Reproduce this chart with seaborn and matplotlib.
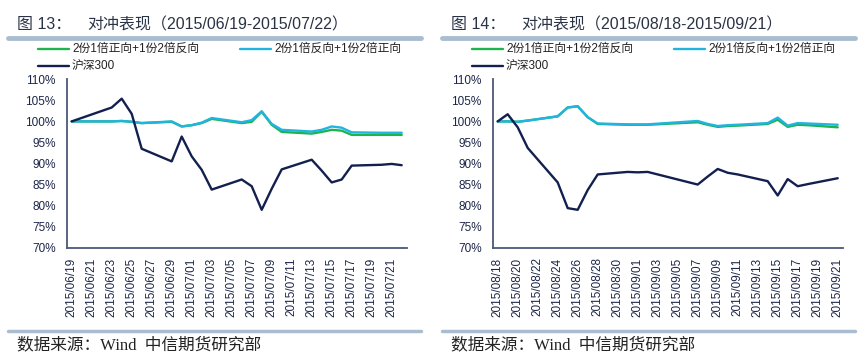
import matplotlib
matplotlib.use('Agg')
import matplotlib.pyplot as plt
from matplotlib.lines import Line2D
import seaborn as sns
import numpy as np
import pandas as pd

# ---- data ----
# left panel: 2015/06/19 - 2015/07/22
dates_l = ['2015-06-19', '2015-06-23', '2015-06-24', '2015-06-25', '2015-06-26',
           '2015-06-29', '2015-06-30', '2015-07-01', '2015-07-02', '2015-07-03',
           '2015-07-06', '2015-07-07', '2015-07-08', '2015-07-09', '2015-07-10',
           '2015-07-13', '2015-07-14', '2015-07-15', '2015-07-16', '2015-07-17',
           '2015-07-20', '2015-07-21', '2015-07-22']
green_l = [100.0, 100.0, 100.1, 99.9, 99.6, 99.9, 98.8, 99.1, 99.6, 100.6,
           99.6, 99.9, 102.3, 99.2, 97.5, 97.1, 97.5, 98.0, 97.8, 96.8,
           96.8, 96.8, 96.8]
cyan_l = [100.0, 100.0, 100.1, 99.9, 99.6, 100.0, 98.8, 99.1, 99.7, 100.8,
          99.8, 100.3, 102.4, 99.4, 98.0, 97.6, 98.0, 98.8, 98.5, 97.4,
          97.3, 97.3, 97.3]
hs300_l = [100.0, 103.3, 105.4, 101.8, 93.5, 90.5, 96.4, 91.7, 88.5, 83.8,
           86.2, 84.6, 79.0, 84.0, 88.6, 90.9, 88.3, 85.5, 86.2, 89.5,
           89.7, 89.9, 89.6]

# right panel: 2015/08/18 - 2015/09/21
dates_r = ['2015-08-18', '2015-08-19', '2015-08-20', '2015-08-21', '2015-08-24',
           '2015-08-25', '2015-08-26', '2015-08-27', '2015-08-28', '2015-08-31',
           '2015-09-01', '2015-09-02', '2015-09-07', '2015-09-08', '2015-09-09',
           '2015-09-10', '2015-09-11', '2015-09-14', '2015-09-15', '2015-09-16',
           '2015-09-17', '2015-09-18', '2015-09-21']
green_r = [100.0, 100.0, 99.9, 100.2, 101.2, 103.3, 103.6, 101.0, 99.4, 99.2,
           99.2, 99.2, 99.8, 99.2, 98.7, 98.9, 99.0, 99.4, 100.4, 98.7,
           99.2, 99.1, 98.6]
cyan_r = [100.0, 100.0, 99.9, 100.2, 101.2, 103.3, 103.6, 101.0, 99.5, 99.3,
          99.3, 99.3, 100.1, 99.4, 98.9, 99.1, 99.2, 99.6, 100.9, 99.0,
          99.6, 99.5, 99.2]
hs300_r = [100.0, 101.7, 98.6, 93.7, 85.5, 79.4, 79.0, 83.7, 87.4, 88.0,
           87.9, 88.0, 85.0, 86.9, 88.7, 87.8, 87.4, 85.8, 82.4, 86.3,
           84.6, 85.1, 86.5]

series_names = ['2份1倍正向+1份2倍反向', '2份1倍反向+1份2倍正向', '沪深300']
colors = ['#1db34f', '#22b4e0', '#13204f']
palette = dict(zip(series_names, colors))

start_l, end_l = '2015-06-19', '2015-07-22'
start_r, end_r = '2015-08-18', '2015-09-21'

titles = [('图 13：', '对冲表现（2015/06/19-2015/07/22）'),
          ('图 14：', '对冲表现（2015/08/18-2015/09/21）')]
source = '数据来源：Wind  中信期货研究部'

# ---- style ----
sns.set_theme(style='white')
plt.rcParams['font.family'] = ['Liberation Sans', 'Noto Sans CJK SC', 'DejaVu Sans']
plt.rcParams['axes.unicode_minus'] = False

W, H = 865, 360
fig = plt.figure(figsize=(W / 100, H / 100), dpi=100)

axis_col = '#4b5878'
bar_col = '#aabdd0'
text_col = '#1c2648'


def fx(px):
    return px / W


def fy(py):
    return 1 - py / H


def make_df(dates, vals, start):
    d0 = pd.Timestamp(start)
    days = [(pd.Timestamp(d) - d0).days for d in dates]
    frames = []
    for name, v in zip(series_names, vals):
        frames.append(pd.DataFrame({'day': days, 'value': v, 'series': name}))
    return pd.concat(frames, ignore_index=True)


panels = [
    dict(x0=66.7, start=start_l, end=end_l, dates=dates_l,
         vals=[green_l, cyan_l, hs300_l], ox=0),
    dict(x0=492.7, start=start_r, end=end_r, dates=dates_r,
         vals=[green_r, cyan_r, hs300_r], ox=434),
]

for i, p in enumerate(panels):
    ndays = (pd.Timestamp(p['end']) - pd.Timestamp(p['start'])).days
    y_top, y_bot = 79.3, 247.7
    ax = fig.add_axes([fx(p['x0']), fy(y_bot), fx((ndays + 1) * 10), (y_bot - y_top) / H])
    df = make_df(p['dates'], p['vals'], p['start'])
    sns.lineplot(data=df, x='day', y='value', hue='series', palette=palette,
                 hue_order=series_names, ax=ax, legend=False, linewidth=1.7)
    ax.set_xlim(-0.5, ndays + 0.5)
    ax.set_ylim(70, 110)
    ax.set_xlabel('')
    ax.set_ylabel('')
    for s in ['top', 'right']:
        ax.spines[s].set_visible(False)
    for s in ['left', 'bottom']:
        ax.spines[s].set_color(axis_col)
        ax.spines[s].set_linewidth(1.3)
    yt = np.arange(70, 111, 5)
    ax.set_yticks(yt)
    ax.set_yticklabels(['%d%%' % v for v in yt])
    lab_days = np.arange(0, ndays + 1, 2)
    d0 = pd.Timestamp(p['start'])
    ax.set_xticks(lab_days)
    ax.set_xticklabels([(d0 + pd.Timedelta(days=int(d))).strftime('%Y/%m/%d') for d in lab_days],
                       rotation=90)
    ax.set_xticks(np.arange(1.5, ndays + 1, 2), minor=True)
    ax.tick_params(axis='x', which='major', length=0, pad=7, labelsize=8.5, colors=text_col)
    ax.tick_params(axis='x', which='minor', length=3, width=1, color=axis_col, direction='out')
    ax.tick_params(axis='y', length=3, width=1, color=axis_col, direction='out', pad=5,
                   labelsize=8.5, labelcolor=text_col)
    ax.grid(False)

    ox = p['ox']
    # title
    fig.text(fx(17 + ox), fy(25), titles[i][0], fontsize=11.5, color='#2a3346', va='center')
    fig.text(fx(87 + ox), fy(25), titles[i][1], fontsize=11.5, color='#2a3346', va='center')
    # separator bars
    fig.add_artist(Line2D([fx(8 + ox), fx(421 + ox)], [fy(38), fy(38)], color=bar_col, lw=3.5))
    fig.add_artist(Line2D([fx(8 + ox), fx(421 + ox)], [fy(331), fy(331)], color=bar_col, lw=2.5))
    # legend
    leg = [(38, 49, 0), (240, 49, 1), (38, 66, 2)]
    for lx, ly, k in leg:
        fig.add_artist(Line2D([fx(lx + ox), fx(lx + 31 + ox)], [fy(ly), fy(ly)],
                              color=colors[k], lw=1.7))
        fig.text(fx(lx + 34 + ox), fy(ly), series_names[k], fontsize=8.5,
                 color='#222222', va='center')
    # source
    fig.text(fx(17 + ox), fy(345), source, fontsize=12, color='#222222', va='center',
             family=['Liberation Serif', 'Noto Sans CJK SC'])

fig.savefig('out.png', dpi=100)
